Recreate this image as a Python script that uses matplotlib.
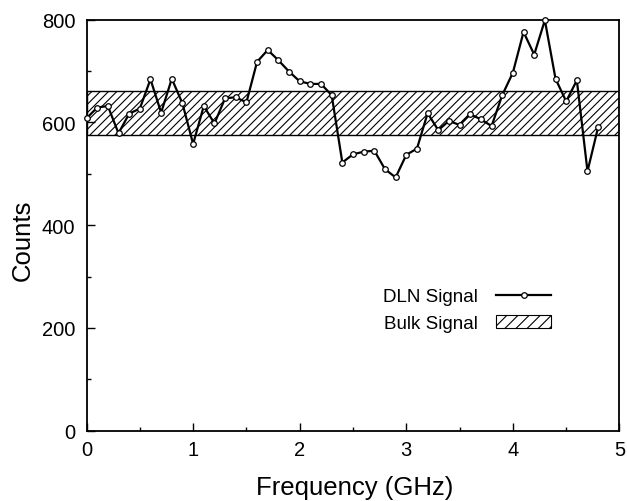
import matplotlib
matplotlib.use("Agg")
import matplotlib.pyplot as plt
from matplotlib.patches import Patch
from matplotlib.lines import Line2D

freq_ghz = [0.0, 0.1, 0.2, 0.3, 0.4, 0.5, 0.6, 0.7, 0.8, 0.9,
            1.0, 1.1, 1.2, 1.3, 1.4, 1.5, 1.6, 1.7, 1.8, 1.9,
            2.0, 2.1, 2.2, 2.3, 2.4, 2.5, 2.6, 2.7, 2.8, 2.9,
            3.0, 3.1, 3.2, 3.3, 3.4, 3.5, 3.6, 3.7, 3.8, 3.9,
            4.0, 4.1, 4.2, 4.3, 4.4, 4.5, 4.6, 4.7, 4.8]
dln_counts = [608, 629, 632, 579, 617, 627, 684, 619, 685, 637,
              558, 632, 598, 647, 649, 639, 718, 741, 721, 699,
              680, 675, 675, 653, 522, 538, 543, 545, 509, 493,
              537, 549, 618, 585, 603, 595, 616, 606, 593, 653,
              697, 776, 732, 799, 685, 641, 682, 505, 591]
bulk_low = 575
bulk_high = 662
x_ticks = [0, 1, 2, 3, 4, 5]
y_ticks = [0, 200, 400, 600, 800]

plt.rcParams['font.family'] = ['Liberation Sans', 'DejaVu Sans']
plt.rcParams['hatch.linewidth'] = 0.8

fig = plt.figure(figsize=(6.27, 5.02), dpi=100)
ax = fig.add_axes([0.138, 0.140, 0.850, 0.8188])

ax.fill_between([0, 5], bulk_low, bulk_high, facecolor='white',
                edgecolor='black', hatch='////', linewidth=1.0, zorder=1)
ax.plot(freq_ghz, dln_counts, color='black', linewidth=1.6, marker='o',
        markersize=4, markerfacecolor='white', markeredgecolor='black',
        markeredgewidth=0.9, zorder=3, clip_on=False)

ax.set_xlim(0, 5)
ax.set_ylim(0, 800)
ax.set_xticks(x_ticks)
ax.set_yticks(y_ticks)
ax.set_xticks([0.5, 1.5, 2.5, 3.5, 4.5], minor=True)
ax.set_yticks([100, 300, 500, 700], minor=True)
ax.tick_params(axis='both', which='major', direction='in', length=6,
               width=1.0, labelsize=14.5, top=False, right=False)
ax.tick_params(axis='both', which='minor', direction='in', length=3,
               width=1.0, top=False, right=False)
ax.tick_params(axis='x', pad=7)
ax.tick_params(axis='y', pad=8)
for s in ax.spines.values():
    s.set_linewidth(1.3)

ax.set_xlabel('Frequency (GHz)', fontsize=18.5, va='center')
ax.xaxis.set_label_coords(0.503, -0.137)
ax.set_ylabel('Counts', fontsize=18.5, va='center')
ax.yaxis.set_label_coords(-0.119, 0.466)

handles = [Line2D([], [], color='black', linewidth=1.6, marker='o',
                  markersize=4, markerfacecolor='white',
                  markeredgecolor='black', markeredgewidth=0.9),
           Patch(facecolor='white', edgecolor='black', hatch='///',
                 linewidth=0.8)]
ax.legend(handles, ['DLN Signal', 'Bulk Signal'], loc='upper left',
          bbox_to_anchor=(0.556, 0.347), borderaxespad=0, borderpad=0,
          frameon=False, markerfirst=False,
          fontsize=13.5, handlelength=2.9, handletextpad=1.0,
          labelspacing=0.5, numpoints=1)

fig.savefig('out.png', dpi=100)
